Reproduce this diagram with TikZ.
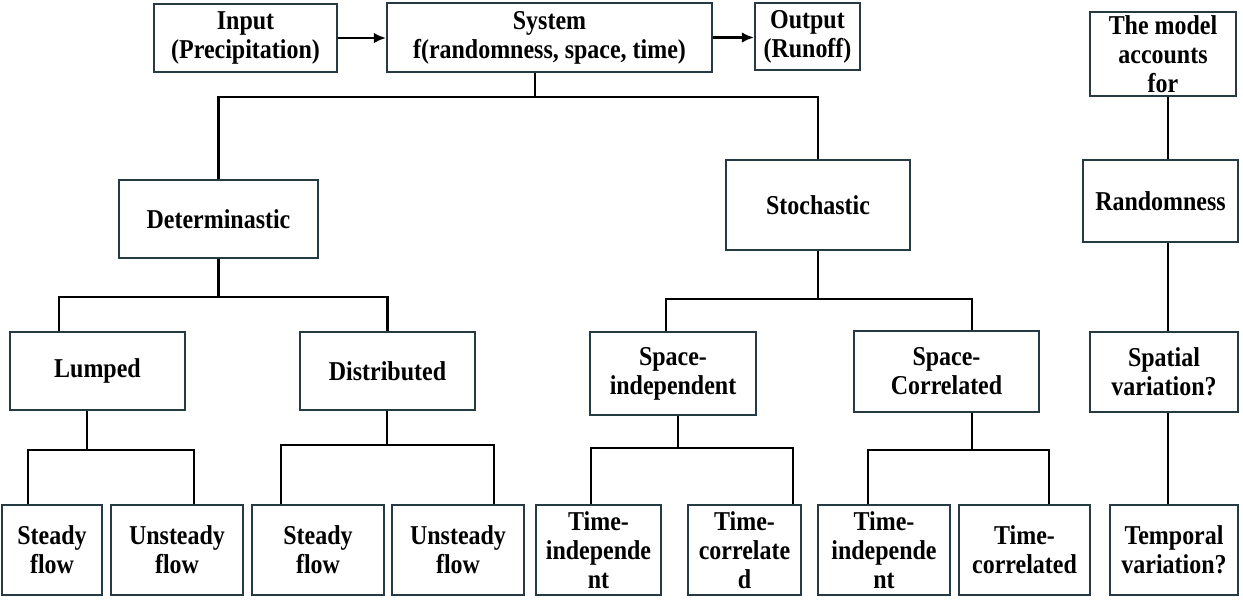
\documentclass[tikz,border=0pt]{standalone}
\usepackage{fontspec}
\setmainfont{Liberation Serif}[FakeStretch=0.88]
\usetikzlibrary{arrows.meta}
\definecolor{boxline}{RGB}{38,58,68}
\tikzset{box/.style={draw=boxline,line width=1pt,align=center,inner sep=2pt,
   font=\bfseries\fontsize{15.5}{16.5}\selectfont},
 sz/.style 2 args={minimum width=#1*0.02cm,minimum height=#2*0.02cm},
 link/.style={line width=1.6pt},
 flow/.style={line width=1.4pt,-{Latex[length=7pt,width=6pt]}}}

\begin{document}
\begin{tikzpicture}[x=0.02cm,y=-0.02cm]
\useasboundingbox (0,0) rectangle (1243,599);
% top row
\node[box,sz={183}{68}] (inp) at (245.5,38) {Input\\(Precipitation)};
\node[box,sz={325}{69}] (sys) at (549.5,37.5) {System\\f(randomness, space, time)};
\node[box,sz={105}{67}] (out) at (807.5,36.5) {Output\\(Runoff)};
\node[box,sz={146}{82}] (model) at (1163,54) {The model\\accounts\\for};
\draw[flow] (inp.east) -- (inp.east -| sys.west);
\draw[flow] (sys.east) -- (sys.east -| out.west);
% second level
\node[box,sz={199}{78}] (det) at (218.5,219) {Determinastic};
\node[box,sz={184}{90}] (sto) at (818,205) {Stochastic};
\node[box,sz={155}{82}] (rand) at (1160.5,201) {Randomness};
% third level
\node[box,sz={175}{78}] (lum) at (97.5,371) {Lumped};
\node[box,sz={175}{78}] (dis) at (387.5,371) {Distributed};
\node[box,sz={166}{83}] (spi) at (673,373.5) {Space-\\independent};
\node[box,sz={185}{81}] (spc) at (946.5,371.5) {Space-\\Correlated};
\node[box,sz={148}{80}] (spa) at (1164,372) {Spatial\\variation?};
% bottom row
\node[box,sz={100}{90}] (s1) at (52,550) {Steady\\flow};
\node[box,sz={132}{90}] (u1) at (177,550) {Unsteady\\flow};
\node[box,sz={132}{90}] (s2) at (318,550) {Steady\\flow};
\node[box,sz={132}{90}] (u2) at (458,550) {Unsteady\\flow};
\node[box,sz={125}{90}] (ti1) at (598.5,550) {Time-\\independe\\nt};
\node[box,sz={113}{90}] (tc1) at (744.5,550) {Time-\\correlate\\d};
\node[box,sz={132}{90}] (ti2) at (884,550) {Time-\\independe\\nt};
\node[box,sz={131}{90}] (tc2) at (1024.5,550) {Time-\\correlated};
\node[box,sz={128}{90}] (tv) at (1174,550) {Temporal\\variation?};

% branch points
\coordinate (j0) at (535,97);
\coordinate (j1) at (59,297);
\coordinate (j2a) at (666,299);
\coordinate (j2b) at (972,299);
\coordinate (col) at (1168,0);
\draw[link] (j0 |- sys.south) -- (j0);
\draw[link] (det.north) |- (sto.north |- j0) -- (sto.north);
\draw[link] (det.south) -- (det.south |- j1);
\draw[link] (j1 |- lum.north) -- (j1) -| (dis.north);
\draw[link] (sto.south) -- (sto.south |- j2a);
\draw[link] (j2a |- spi.north) -- (j2a) -- (j2b) -- (j2b |- spc.north);
\draw[link] (model.south -| col) -- (rand.north -| col);
\draw[link] (rand.south -| col) -- (spa.north -| col);
\draw[link] (spa.south -| col) -- (tv.north -| col);
% lowest branches: parent, stem x, bar y, left x, right x, children
\foreach \p/\m/\y/\a/\b/\l/\r in {lum/87/450/28/194/s1/u1,dis/387/445/281/494/s2/u2,
  spi/678/448/591/793/ti1/tc1,spc/972/450/868/1049/ti2/tc2}{
  \draw[link] (\p.south -| \m,0) -- (\m,\y);
  \draw[link] (\l.north -| \a,0) -- (\a,\y) -- (\b,\y) -- (\r.north -| \b,0);
}
\end{tikzpicture}
\end{document}
